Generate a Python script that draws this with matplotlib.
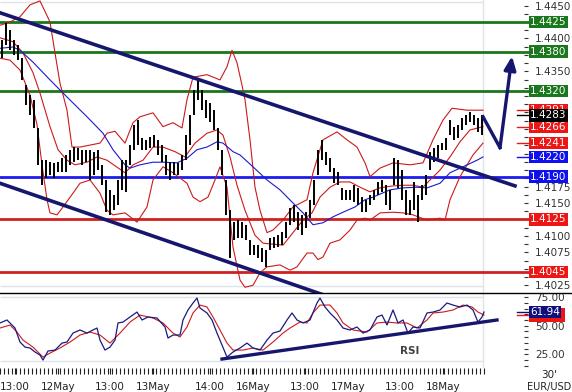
import matplotlib.pyplot as plt
from matplotlib.lines import Line2D
from matplotlib.patches import Rectangle
from matplotlib.ticker import MultipleLocator, FormatStrFormatter, FixedLocator, FuncFormatter

# ---- EUR/USD 30' bars (every other bar), time in 30-min bar units ----
bar_t = list(range(1, 242, 2))
bar_high = [1.4398, 1.4424, 1.4413, 1.4398, 1.4390, 1.4370, 1.4329, 1.4314, 1.4307, 1.4264,
            1.4215, 1.4215, 1.4212, 1.4211, 1.4212, 1.4218, 1.4223, 1.4231, 1.4235, 1.4234,
            1.4231, 1.4231, 1.4231, 1.4228, 1.4231, 1.4208, 1.4185, 1.4170, 1.4162, 1.4185,
            1.4215, 1.4215, 1.4238, 1.4269, 1.4276, 1.4249, 1.4246, 1.4250, 1.4253, 1.4246,
            1.4238, 1.4223, 1.4212, 1.4212, 1.4211, 1.4223, 1.4253, 1.4284, 1.4322, 1.4337,
            1.4322, 1.4307, 1.4302, 1.4291, 1.4264, 1.4231, 1.4185, 1.4139, 1.4121, 1.4124,
            1.4121, 1.4117, 1.4094, 1.4086, 1.4086, 1.4082, 1.4079, 1.4097, 1.4098, 1.4101,
            1.4106, 1.4121, 1.4142, 1.4147, 1.4136, 1.4132, 1.4136, 1.4155, 1.4185, 1.4231,
            1.4246, 1.4228, 1.4218, 1.4203, 1.4197, 1.4173, 1.4170, 1.4170, 1.4177, 1.4173,
            1.4159, 1.4155, 1.4162, 1.4170, 1.4182, 1.4185, 1.4177, 1.4170, 1.4218, 1.4215,
            1.4200, 1.4170, 1.4155, 1.4182, 1.4162, 1.4177, 1.4193, 1.4228, 1.4234, 1.4238,
            1.4241, 1.4249, 1.4276, 1.4266, 1.4269, 1.4279, 1.4284, 1.4288, 1.4284, 1.4279,
            1.4284]
bar_low = [1.4370, 1.4390, 1.4382, 1.4375, 1.4367, 1.4337, 1.4299, 1.4284, 1.4264, 1.4208,
           1.4177, 1.4188, 1.4193, 1.4188, 1.4197, 1.4197, 1.4197, 1.4208, 1.4212, 1.4215,
           1.4208, 1.4212, 1.4185, 1.4193, 1.4200, 1.4177, 1.4136, 1.4132, 1.4139, 1.4147,
           1.4170, 1.4167, 1.4208, 1.4231, 1.4238, 1.4231, 1.4231, 1.4234, 1.4235, 1.4223,
           1.4212, 1.4193, 1.4185, 1.4193, 1.4193, 1.4200, 1.4215, 1.4238, 1.4284, 1.4307,
           1.4291, 1.4279, 1.4273, 1.4261, 1.4231, 1.4193, 1.4132, 1.4067, 1.4094, 1.4097,
           1.4097, 1.4094, 1.4071, 1.4071, 1.4067, 1.4060, 1.4053, 1.4079, 1.4082, 1.4083,
           1.4086, 1.4097, 1.4117, 1.4121, 1.4109, 1.4101, 1.4112, 1.4127, 1.4147, 1.4193,
           1.4215, 1.4208, 1.4197, 1.4180, 1.4177, 1.4155, 1.4155, 1.4155, 1.4152, 1.4147,
           1.4136, 1.4136, 1.4147, 1.4155, 1.4162, 1.4167, 1.4147, 1.4139, 1.4177, 1.4173,
           1.4155, 1.4132, 1.4132, 1.4139, 1.4121, 1.4155, 1.4162, 1.4200, 1.4212, 1.4218,
           1.4231, 1.4231, 1.4253, 1.4246, 1.4249, 1.4261, 1.4269, 1.4273, 1.4269, 1.4258,
           1.4253]

# ---- Bollinger bands (red) and moving average (blue) ----
bb_up_t = [0, 5, 10, 15, 20, 25, 27.5, 30, 33.5, 36, 40, 45, 50, 53.5, 57.5, 62.5, 66.5, 70,
           76.5, 81.5, 86.5, 91, 93.5, 96.5, 103.5, 110, 113.5, 116, 118.5, 121, 122.5, 125,
           127.5, 130, 133.5, 136.5, 141.5, 146.5, 153.5, 156.5, 161.5, 168.5, 173.5, 178.5,
           182.5, 185, 190, 196.5, 205, 211.5, 216.5, 221.5, 226, 233.5, 241.5]
bb_up = [1.4420, 1.4425, 1.4433, 1.4451, 1.4457, 1.4425, 1.4378, 1.4332, 1.4291, 1.4235,
         1.4235, 1.4238, 1.4241, 1.4256, 1.4259, 1.4241, 1.4272, 1.4281, 1.4287, 1.4266,
         1.4272, 1.4264, 1.4307, 1.4341, 1.4345, 1.4337, 1.4357, 1.4382, 1.4363, 1.4329,
         1.4307, 1.4246, 1.4174, 1.4139, 1.4105, 1.4109, 1.4124, 1.4144, 1.4155, 1.4196,
         1.4246, 1.4258, 1.4246, 1.4235, 1.4211, 1.4190, 1.4203, 1.4211, 1.4208, 1.4211,
         1.4246, 1.4276, 1.4294, 1.4291, 1.4291]
bb_mid_t = [0, 6.5, 11.5, 16.5, 20, 25, 29, 33.5, 37.5, 43.5, 48.5, 53.5, 62.5, 66.5, 71.5,
            76.5, 81.5, 87.5, 92.5, 97.5, 103.5, 108.5, 111.5, 115, 118.5, 122.5, 127.5,
            131.5, 141.5, 146.5, 151.5, 156, 160, 165, 170, 175, 180, 185, 190, 196.5, 201.5,
            206.5, 211.5, 215, 220, 225, 230, 235, 241.5]
bb_mid = [1.4401, 1.4395, 1.4378, 1.4348, 1.4317, 1.4266, 1.4231, 1.4215, 1.4208, 1.4212,
          1.4220, 1.4215, 1.4196, 1.4208, 1.4215, 1.4235, 1.4235, 1.4228, 1.4220, 1.4241,
          1.4256, 1.4261, 1.4253, 1.4220, 1.4177, 1.4139, 1.4101, 1.4089, 1.4086, 1.4105,
          1.4124, 1.4135, 1.4159, 1.4174, 1.4182, 1.4182, 1.4174, 1.4167, 1.4173, 1.4176,
          1.4177, 1.4177, 1.4174, 1.4185, 1.4200, 1.4220, 1.4243, 1.4261, 1.4266]
bb_low_t = [0, 5, 10, 15, 18.5, 21, 23.5, 25, 28.5, 31.5, 36.5, 40, 45, 50, 53.5, 56.5, 62.5,
            68.5, 73.5, 76.5, 81.5, 86.5, 93.5, 96.5, 100, 104, 107.5, 110, 113.5, 116.5, 120,
            122.5, 126.5, 130, 133.5, 140, 145, 148.5, 153.5, 156.5, 159, 161.5, 165, 170,
            175, 178.5, 182.5, 185, 190, 196.5, 201.5, 206.5, 213.5, 220, 222.5, 225, 230,
            236.5, 241.5]
bb_low = [1.4370, 1.4367, 1.4352, 1.4314, 1.4269, 1.4208, 1.4155, 1.4135, 1.4132, 1.4144,
          1.4165, 1.4180, 1.4185, 1.4165, 1.4139, 1.4132, 1.4135, 1.4121, 1.4144, 1.4185,
          1.4205, 1.4196, 1.4180, 1.4159, 1.4152, 1.4159, 1.4185, 1.4205, 1.4174, 1.4083,
          1.4033, 1.4022, 1.4025, 1.4044, 1.4053, 1.4056, 1.4048, 1.4053, 1.4074, 1.4074,
          1.4064, 1.4068, 1.4089, 1.4094, 1.4109, 1.4124, 1.4127, 1.4124, 1.4135, 1.4136,
          1.4135, 1.4132, 1.4124, 1.4127, 1.4124, 1.4155, 1.4190, 1.4223, 1.4241]
ma_t = [0, 6.5, 10, 16.5, 25, 33.5, 43.5, 51.5, 56.5, 62.5, 65, 70, 76.5, 81.5, 88.5, 93.5,
        98.5, 103.5, 108.5, 111.5, 116.5, 120, 126.5, 133.5, 140, 146.5, 151.5, 156.5, 161.5,
        166.5, 171.5, 177.5, 182.5, 186.5, 195, 201.5, 208.5, 213.5, 220, 225, 231.5, 238.5,
        241.5]
ma = [1.4385, 1.4387, 1.4382, 1.4364, 1.4337, 1.4311, 1.4281, 1.4256, 1.4231, 1.4208,
      1.4203, 1.4208, 1.4212, 1.4212, 1.4211, 1.4218, 1.4231, 1.4235, 1.4243, 1.4241,
      1.4228, 1.4223, 1.4205, 1.4185, 1.4170, 1.4150, 1.4135, 1.4117, 1.4120, 1.4129,
      1.4136, 1.4144, 1.4155, 1.4159, 1.4170, 1.4173, 1.4174, 1.4173, 1.4180, 1.4196,
      1.4205, 1.4215, 1.4220]

# ---- RSI ----
rsi_t = [0, 3.5, 7.5, 10, 12.5, 15, 17.5, 20, 21.5, 24, 27.5, 31, 33.5, 36.5, 40, 43.5, 46.5,
         48.5, 50, 52.5, 55, 57.5, 59, 61.5, 65, 68.5, 71, 74, 78.5, 82.5, 84, 86.5, 90, 91.5,
         94, 96.5, 98.5, 100, 103.5, 106, 108.5, 111, 113.5, 116.5, 120, 123.5, 126.5, 130,
         133.5, 136.5, 140, 143.5, 146, 148.5, 151.5, 155, 158.5, 160, 162.5, 165, 168.5,
         171.5, 175, 178.5, 181.5, 185, 188.5, 191, 193.5, 196.5, 199, 201.5, 204, 206.5, 210,
         213.5, 216.5, 220, 223.5, 226.5, 230, 233.5, 236.5, 239, 241, 242]
rsi = [52.4, 55.0, 48.0, 35.8, 31.4, 30.6, 27.1, 24.5, 20.1, 28.0,
       28.8, 34.9, 35.8, 43.6, 46.3, 43.6, 46.3, 48.0, 37.5, 28.8,
       31.4, 37.5, 52.4, 53.2, 57.6, 61.9, 55.0, 57.6, 56.7, 48.9,
       39.3, 41.9, 41.9, 55.0, 63.7, 69.8, 74.1, 65.4, 61.1, 55.0,
       43.6, 33.2, 22.7, 27.1, 30.6, 34.9, 30.6, 28.8, 37.5, 43.6,
       45.4, 55.0, 61.1, 55.0, 52.4, 55.0, 69.8, 74.1, 66.3, 61.1,
       55.0, 48.0, 46.3, 48.9, 43.6, 46.3, 57.6, 59.3, 50.6, 63.7,
       52.4, 55.0, 43.6, 48.9, 48.0, 61.1, 61.9, 63.7, 69.8, 68.0,
       66.3, 68.0, 63.7, 53.2, 57.6, 61.94]
sig_t = [0, 5, 8.5, 11.5, 16.5, 21.5, 25, 30, 35, 40, 45, 50, 55, 60, 65, 70, 76.5, 81.5,
         86.5, 90, 93.5, 96.5, 100, 103.5, 106.5, 110, 113.5, 116.5, 121.5, 126.5, 131.5,
         136.5, 141.5, 145, 150, 153.5, 156.5, 160, 165, 168.5, 171.5, 176.5, 183.5, 188.5,
         193.5, 198.5, 203.5, 208.5, 213.5, 216.5, 221.5, 226.5, 231.5, 236, 239, 242]
sig = [48.0, 50.6, 44.5, 37.5, 31.4, 22.7, 26.2, 30.6, 35.8, 41.9,
       44.5, 41.9, 34.9, 43.6, 53.2, 59.3, 56.7, 52.4, 43.6, 40.2,
       48.9, 61.1, 68.0, 66.3, 57.6, 46.3, 34.9, 28.8, 28.8, 30.6,
       28.8, 35.8, 43.6, 48.0, 53.2, 52.4, 61.1, 68.0, 68.0, 61.1,
       52.4, 46.3, 44.5, 52.4, 53.2, 52.4, 52.4, 48.0, 55.0, 61.1,
       61.9, 63.7, 68.0, 66.3, 61.9, 59.3]

# ---- drawn annotations: levels, channel, projection arrow, RSI trendline ----
green_levels = [1.4425, 1.4380, 1.4320]
blue_levels = [1.4190]
red_levels = [1.4125, 1.4045]
chan_up_t, chan_up_p = [0, 257.5], [1.4439, 1.4176]
chan_low_t, chan_low_p = [0, 165], [1.4180, 1.4007]
proj_t, proj_p = [241.5, 250, 256], [1.4281, 1.4234, 1.4373]
rsi_line_t, rsi_line_v = [111, 248.5], [21.0, 55.0]
last_values = [("1.4291", 1.4291, "#ee1515"), ("1.4266", 1.4266, "#ee1515"),
               ("1.4241", 1.4241, "#ee1515"), ("1.4220", 1.4220, "#1010ee"),
               ("1.4283", 1.4283, "black")]
xtick_t = [7.5, 29, 55, 76.5, 105, 126.5, 152.5, 174, 200, 221.5]
xtick_lbl = ["13:00", "12May", "13:00", "13May", "14:00", "16May",
             "13:00", "17May", "13:00", "18May"]

NAVY = "#16166e"
GREEN = "#1b771b"
RED = "#d02020"
GRID = "#dde3ea"
W, H = 572, 392

fig = plt.figure(figsize=(W / 100, H / 100), dpi=100)
ax = fig.add_axes([0, 1 - 293 / H, 524 / W, 293 / H])
rax = fig.add_axes([0, 1 - 368 / H, 524 / W, 75 / H], sharex=ax)

for a in (ax, rax):
    for s in a.spines.values():
        s.set_visible(False)
    a.axvline(241.5, color=GRID, lw=1, zorder=0)

ax.set_xlim(0, 262)
ax.set_ylim(1.40133, 1.44584)
ax.hlines([1.44554, 1.40240], 0, 241.5, color=GRID, lw=1, zorder=0)


def level_box(axis, text, y, col, z, size=7.5):
    axis.text(1.012, y, text, transform=axis.get_yaxis_transform(), ha="left", va="center",
              fontsize=size, color="white", zorder=z, clip_on=False,
              bbox=dict(boxstyle="square,pad=0.12", fc=col, ec="none"))


for p in green_levels:
    ax.axhline(p, xmax=1.012, color=GREEN, lw=2, clip_on=False, zorder=2)
    level_box(ax, f"{p:.4f}", p, GREEN, 5)
for p in blue_levels:
    ax.axhline(p, xmax=1.012, color="#1c1cf0", lw=2, clip_on=False, zorder=2)
    level_box(ax, f"{p:.4f}", p, "#1010ee", 5)
for p in red_levels:
    ax.axhline(p, xmax=1.012, color=RED, lw=2, clip_on=False, zorder=2)
    level_box(ax, f"{p:.4f}", p, "#ee1515", 5)

# indicators
ax.plot(bb_up_t, bb_up, color="#cc1a1a", lw=0.8, zorder=3)
ax.plot(bb_mid_t, bb_mid, color="#cc1a1a", lw=0.8, zorder=3)
ax.plot(bb_low_t, bb_low, color="#cc1a1a", lw=0.8, zorder=3)
ax.plot(ma_t, ma, color="#1a1acc", lw=0.8, zorder=3)

# bars
ax.vlines(bar_t, bar_low, bar_high, color="black", lw=1.4, zorder=4)

# channel and projection
ax.plot(chan_up_t, chan_up_p, color=NAVY, lw=2.6, zorder=4.5)
ax.plot(chan_low_t, chan_low_p, color=NAVY, lw=2.6, zorder=4.5)
ax.plot(proj_t[:2], proj_p[:2], color=NAVY, lw=2.4, zorder=4.5, clip_on=False)
ax.annotate("", xy=(proj_t[2], proj_p[2]), xytext=(proj_t[1], proj_p[1]),
            arrowprops=dict(arrowstyle="-|>,head_length=0.8,head_width=0.35", color=NAVY,
                            lw=2.4, shrinkA=0, shrinkB=0), zorder=4.5)

for i, (txt, p, col) in enumerate(last_values):
    ax.plot([0.987, 1.012], [p, p], transform=ax.get_yaxis_transform(), color=col,
            lw=1, clip_on=False, zorder=5)
    level_box(ax, txt, p, col, 6 + i)

# price scale: labels hidden where a level box sits on top of them
boxed = green_levels + blue_levels + red_levels + [v[1] for v in last_values]


def price_fmt(v, pos):
    if any(abs(v - b) < 0.0012 for b in boxed):
        return ""
    return f"{v:.4f}"


ax.yaxis.tick_right()
ax.yaxis.set_major_locator(MultipleLocator(0.0025))
ax.yaxis.set_minor_locator(MultipleLocator(0.00125))
ax.yaxis.set_major_formatter(FuncFormatter(price_fmt))
ax.tick_params(axis="y", which="both", direction="out", length=3, width=0.8,
               colors="#333333", labelsize=7.5, pad=5)
ax.tick_params(axis="x", which="both", bottom=False, labelbottom=False)

# RSI panel
rax.set_ylim(13.2, 78.5)
rax.hlines([75, 19.2], 0, 241.5, color=GRID, lw=1, zorder=0)
rax.plot(sig_t, sig, color="#cc1a1a", lw=0.8, zorder=3)
rax.plot(rsi_t, rsi, color="#1a1a80", lw=0.9, zorder=3)
rax.plot(rsi_line_t, rsi_line_v, color=NAVY, lw=2.4, zorder=4)
rax.text(205, 28, "RSI", fontsize=7.5, fontweight="bold", color="#404040",
         ha="center", va="center")
for v, col, z in [(sig[-1], "#ee1515", 5), (rsi[-1], "#10107a", 6)]:
    rax.plot([0.987, 1.012], [v, v], transform=rax.get_yaxis_transform(),
             color=col, lw=1, clip_on=False, zorder=z)
# signal-line value box sits behind the RSI value box
rax.add_patch(Rectangle((1.009, sig[-1] - 6.2), 0.07, 12.4,
                        transform=rax.get_yaxis_transform(), fc="#ee1515", ec="none",
                        clip_on=False, zorder=5))
rax.text(1.012, rsi[-1], f"{rsi[-1]:.2f}", transform=rax.get_yaxis_transform(), ha="left",
         va="center", fontsize=7.5, color="white", zorder=6, clip_on=False,
         bbox=dict(boxstyle="square,pad=0.12", fc="#10107a", ec="none"))

rax.yaxis.tick_right()
rax.yaxis.set_major_locator(FixedLocator([25, 50, 75]))
rax.yaxis.set_minor_locator(FixedLocator(list(range(15, 80, 5))))
rax.yaxis.set_major_formatter(
    FuncFormatter(lambda v, pos: "" if abs(v - rsi[-1]) < 8 else f"{v:.2f}"))
rax.tick_params(axis="y", which="both", direction="out", length=3, width=0.8,
                colors="#333333", labelsize=7.5, pad=5)

rax.xaxis.set_major_locator(FixedLocator(xtick_t))
rax.set_xticklabels(xtick_lbl)
rax.xaxis.set_minor_locator(FixedLocator(list(range(0, 243, 2))))
rax.tick_params(axis="x", which="both", direction="out", length=4, width=0.8,
                colors="#222222", labelsize=7.5, pad=6)

fig.add_artist(Line2D([0, 1], [1 - 293 / H] * 2, color="black", lw=1))
fig.text(549 / W, 1 - 375 / H, "30'", ha="center", va="center", fontsize=7.5, color="#222222")
fig.text(527 / W, 1 - 387 / H, "EUR/USD", ha="left", va="center", fontsize=7, color="#222222")

fig.savefig("out.png", dpi=100, facecolor="white")
